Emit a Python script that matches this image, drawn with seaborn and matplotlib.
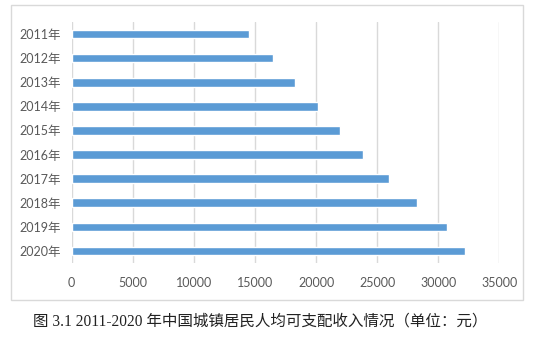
import matplotlib
matplotlib.use("Agg")
import matplotlib.pyplot as plt
import seaborn as sns
import pandas as pd
from matplotlib.patches import Rectangle

# Per-capita disposable income by year (yuan)
years = ["2011年", "2012年", "2013年", "2014年", "2015年",
         "2016年", "2017年", "2018年", "2019年", "2020年"]
income = [14551, 16510, 18311, 20167, 21966, 23821, 25974, 28228, 30733, 32189]
x_ticks = [0, 5000, 10000, 15000, 20000, 25000, 30000, 35000]
caption = "图 3.1 2011-2020 年中国城镇居民人均可支配收入情况（单位：元）"

sns.set_theme(style="white")
plt.rcParams["font.family"] = ["Lato", "Noto Sans CJK SC", "DejaVu Sans"]

df = pd.DataFrame({"year": years, "income": income})

fig = plt.figure(figsize=(5.36, 3.43), dpi=100)
ax = fig.add_axes([71.7 / 536, 1 - 263 / 343, (499.3 - 71.7) / 536, (263 - 22) / 343])

sns.barplot(data=df, x="income", y="year", orient="h", color="#5B9BD5",
            saturation=1, width=0.36, ax=ax, zorder=3)

ax.set_xlim(0, 35000)
ax.set_ylim(9.5, -0.5)
ax.set_xticks(x_ticks)
ax.set_xticklabels([str(t) for t in x_ticks])
ax.xaxis.grid(True, color="#D9D9D9", linewidth=1.0, zorder=0)
ax.yaxis.grid(False)
for s in ax.spines.values():
    s.set_visible(False)
ax.tick_params(axis="both", length=0, labelsize=9, colors="#595959")
ax.tick_params(axis="x", pad=10)
ax.tick_params(axis="y", pad=8)
ax.set_xlabel("")
ax.set_ylabel("")

# Chart frame
fig.patches.append(Rectangle((11 / 536, 1 - 300 / 343), (523 - 11) / 536, (300 - 5) / 343,
                             transform=fig.transFigure, fill=False,
                             edgecolor="#D9D9D9", linewidth=1.0))

fig.text(0.486, 1 - 322 / 343, caption, ha="center", va="center", fontsize=11.2,
         color="#222222", family=["Liberation Serif", "Noto Sans CJK SC"])

fig.savefig("out.png", dpi=100, facecolor="white")
